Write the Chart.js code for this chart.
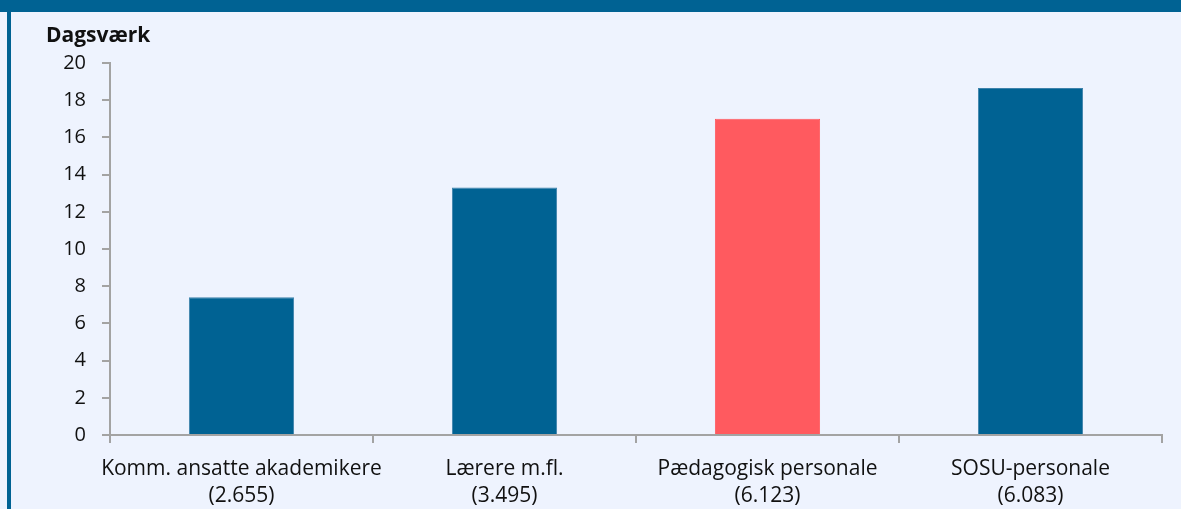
<!DOCTYPE html>
<html>
<head>
<meta charset="utf-8">
<script src="https://cdn.jsdelivr.net/npm/chart.js@4/dist/chart.umd.min.js"></script>
<style>
  html, body { margin: 0; padding: 0; }
  body { width: 1181px; height: 509px; background: #eef3fe; position: relative; overflow: hidden; }
  #topbar { position: absolute; left: 0; top: 0; width: 1181px; height: 12px; background: #006293; }
  #leftbar { position: absolute; left: 7px; top: 0; width: 4px; height: 509px; background: #006293; }
  #chart { position: absolute; left: 0; top: 0; }
</style>
</head>
<body>
<div id="topbar"></div>
<div id="leftbar"></div>
<canvas id="chart" width="1181" height="509"></canvas>
<script>
const categories = [
  ["Komm. ansatte akademikere", "(2.655)"],
  ["Lærere m.fl.", "(3.495)"],
  ["Pædagogisk personale", "(6.123)"],
  ["SOSU-personale", "(6.083)"]
];
const dagsvaerk = [7.4, 13.3, 17.0, 18.65];
const barColors = ["#006293", "#006293", "#ff5a5f", "#006293"];
const barBorders = ["#3d82ab", "#3d82ab", "#ff5a5f", "#3d82ab"];

const axisColor = "#a3a3a3";
const textColor = "#111111";
const font = "'Open Sans', 'Noto Sans', sans-serif";

const ctx = document.getElementById("chart").getContext("2d");
new Chart(ctx, {
  type: "bar",
  data: {
    labels: categories,
    datasets: [
      {
        label: "Dagsværk",
        data: dagsvaerk,
        backgroundColor: barColors,
        borderColor: barBorders,
        borderWidth: 1,
        categoryPercentage: 1,
        barPercentage: 0.4,
      },
    ],
  },
  options: {
    responsive: false,
    animation: false,
    layout: { padding: { left: 46, right: 19, top: 0, bottom: 0 } },
    plugins: {
      legend: { display: false },
      tooltip: { enabled: false },
      title: {
        display: true,
        text: "Dagsværk",
        align: "start",
        color: textColor,
        font: { family: font, size: 21, weight: "bold", lineHeight: 1.2 },
        padding: { top: 23, bottom: 14.8 },
      },
    },
    scales: {
      x: {
        afterFit: (scale) => { scale.height = 74; },
        grid: {
          offset: true,
          drawOnChartArea: false,
          color: axisColor,
          lineWidth: 2,
          tickLength: 8,
        },
        border: { color: axisColor, width: 2 },
        ticks: {
          color: textColor,
          padding: 13,
          maxRotation: 0,
          autoSkip: false,
          font: { family: font, size: 21, lineHeight: 27 / 21 },
        },
      },
      y: {
        min: 0,
        max: 20,
        afterFit: (scale) => { scale.width = 64; },
        grid: {
          drawOnChartArea: false,
          color: axisColor,
          lineWidth: 2,
          tickLength: 8,
        },
        border: { color: axisColor, width: 2 },
        ticks: {
          stepSize: 2,
          color: textColor,
          padding: 16,
          font: { family: font, size: 20 },
        },
      },
    },
  },
});
</script>
</body>
</html>
